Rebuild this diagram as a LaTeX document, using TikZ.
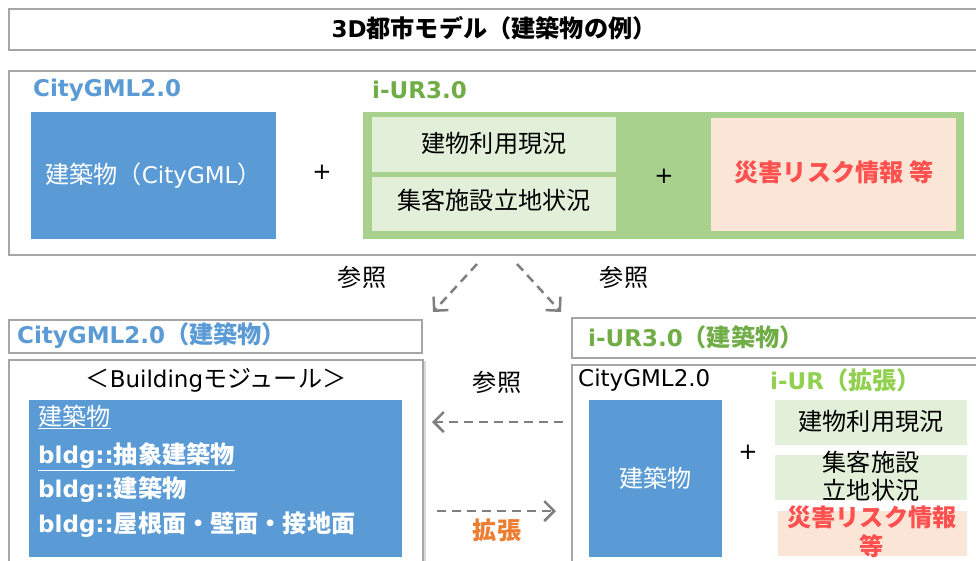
\documentclass[tikz,border=0pt]{standalone}
\usepackage{fontspec}
\setmainfont{DejaVu Sans}
\newfontfamily\jpf{Noto Sans CJK JP}[Scale=1.05]
\usetikzlibrary{arrows.meta,shadows}
\definecolor{bord}{HTML}{A6A6A6}
\definecolor{bblue}{HTML}{5B9BD5}
\definecolor{bgreen}{HTML}{A9D18E}
\definecolor{lgreen}{HTML}{E2F0D9}
\definecolor{peach}{HTML}{FBE5D6}
\definecolor{redt}{HTML}{FF5050}
\definecolor{greent}{HTML}{70AD47}
\definecolor{lgreent}{HTML}{92D050}
\definecolor{oranget}{HTML}{ED7D31}
\definecolor{arrowc}{HTML}{7F7F7F}
\tikzset{
  frame/.style={draw=bord, line width=1.6pt, fill=white, inner sep=0pt},
  fillbox/.style={inner sep=0pt, align=center},
  txt/.style={inner sep=0pt, font=\fontsize{23}{28}\selectfont, align=center},
  ref/.style={draw=arrowc, line width=2.5pt, dash pattern=on 9pt off 6pt, -{Straight Barb[length=10pt,width=20pt]}},
}
\begin{document}
\begin{tikzpicture}[x=1pt,y=-1pt]
\useasboundingbox (0,0) rectangle (976,560);
\clip (0,0) rectangle (976,560);
% top title box
\node[frame, minimum width=981pt, minimum height=41pt] (top) at (499.5,29.5) {};
\node[txt, font=\fontsize{23}{28}\selectfont\bfseries] (title) at (494,28) {3D{\jpf 都市モデル（建築物の例）}};
% second box
\node[frame, minimum width=981pt, minimum height=184pt] (sec) at (499.5,163) {};
\node[txt, anchor=west, text=bblue, font=\fontsize{23}{28}\selectfont\bfseries] (hcg) at (33,90) {CityGML2.0};
\node[txt, anchor=west, text=greent, font=\fontsize{23}{28}\selectfont\bfseries] (hiur) at (372,90) {i-UR3.0};
\node[fillbox, fill=bblue, minimum width=245pt, minimum height=127pt] (b1) at (153.5,175.5) {};
\node[txt, text=white] (b1t) at (153.5,175.5) {{\jpf 建築物（}CityGML{\jpf ）}};
\node[txt] (p1) at (322,172) {+};
\node[fillbox, fill=bgreen, minimum width=601pt, minimum height=127pt] (g1) at (663.5,175.5) {};
\node[fillbox, fill=lgreen, minimum width=244pt, minimum height=55pt] (lg1) at (494,144.5) {};
\node[txt] (lg1t) at (494,143) {\jpf 建物利用現況};
\node[fillbox, fill=lgreen, minimum width=244pt, minimum height=54pt] (lg2) at (494,204) {};
\node[txt] (lg2t) at (494,200) {\jpf 集客施設立地状況};
\node[txt] (p2) at (664,176) {+};
\node[fillbox, fill=peach, minimum width=245pt, minimum height=113pt] (pc1) at (833.5,174.5) {};
\node[txt, text=redt, font=\fontsize{23}{28}\selectfont\bfseries] (pc1t) at (834,172) {\jpf 災害リスク情報 等};
% diagonal reference arrows
\coordinate (dl1) at (477,264);
\coordinate (dl2) at (433,312);
\coordinate (dr1) at (517,264);
\coordinate (dr2) at (561,312);
\draw[ref] (dl1) -- (dl2);
\draw[ref] (dr1) -- (dr2);
\node[txt] (r1) at (362,277) {\jpf 参照};
\node[txt] (r2) at (624,277) {\jpf 参照};
% headers
\node[frame, minimum width=413pt, minimum height=33pt] (hl) at (215.5,336.5) {};
\node[txt, anchor=west, text=bblue, font=\fontsize{23}{28}\selectfont\bfseries] (hlt) at (17,336) {CityGML2.0{\jpf （建築物）}};
\node[frame, minimum width=418pt, minimum height=40pt] (hr) at (781,338) {};
\node[txt, anchor=west, text=greent, font=\fontsize{23}{28}\selectfont\bfseries] (hrt) at (588,337) {i-UR3.0{\jpf （建築物）}};
% lower left box
\node[frame, minimum width=414pt, minimum height=220pt, drop shadow={shadow xshift=3pt, shadow yshift=-1pt, opacity=0.3}] (bl) at (216,470) {};
\node[txt] (blt) at (216,380) {{\jpf ＜}Building{\jpf モジュール＞}};
\node[fillbox, fill=bblue, minimum width=373pt, minimum height=157pt] (bb) at (215.5,478.5) {};
\node[txt, anchor=west, text=white] (l1) at (38,417) {\underline{\jpf 建築物}};
\node[txt, anchor=west, text=white, font=\fontsize{23}{28}\selectfont\bfseries] (l2) at (38,457) {\underline{bldg::{\jpf 抽象建築物}}};
\node[txt, anchor=west, text=white, font=\fontsize{23}{28}\selectfont\bfseries] (l3) at (38,490) {bldg::{\jpf 建築物}};
\node[txt, anchor=west, text=white, font=\fontsize{23}{28}\selectfont\bfseries] (l4) at (38,525) {bldg::{\jpf 屋根面・壁面・接地面}};
% lower right box
\node[frame, minimum width=418pt, minimum height=215pt] (br) at (781,472.5) {};
\node[txt, anchor=west] (brc) at (578,380) {CityGML2.0};
\node[txt, anchor=west, text=lgreent, font=\fontsize{23}{28}\selectfont\bfseries] (bri) at (770,380) {i-UR{\jpf （拡張）}};
\node[fillbox, fill=bblue, minimum width=133pt, minimum height=157pt] (rb) at (655.5,478.5) {};
\node[txt, text=white] (rbt) at (655.5,478) {\jpf 建築物};
\node[txt] (p3) at (748,452) {+};
\node[fillbox, fill=lgreen, minimum width=192pt, minimum height=45pt] (rg1) at (871,422.5) {};
\node[txt] (rg1t) at (871,421) {\jpf 建物利用現況};
\node[fillbox, fill=lgreen, minimum width=192pt, minimum height=45pt] (rg2) at (871,477.5) {};
\node[txt] (rg2t) at (871,476) {\jpf 集客施設\\\jpf 立地状況};
\node[fillbox, fill=peach, minimum width=189pt, minimum height=45pt] (rp) at (872.5,533.5) {};
\node[txt, text=redt, font=\fontsize{23}{29}\selectfont\bfseries] (rpt) at (872,532) {\jpf 災害リスク情報\\\jpf 等};
% middle arrows
\coordinate (ml1) at (563,422);
\coordinate (ml2) at (432,422);
\coordinate (mr1) at (437,511);
\coordinate (mr2) at (556,511);
\draw[ref] (ml1) -- (ml2);
\draw[ref] (mr1) -- (mr2);
\node[txt] (r3) at (497,382) {\jpf 参照};
\node[txt, text=oranget, font=\fontsize{23}{28}\selectfont\bfseries] (ext) at (497,530) {\jpf 拡張};
\end{tikzpicture}
\end{document}
